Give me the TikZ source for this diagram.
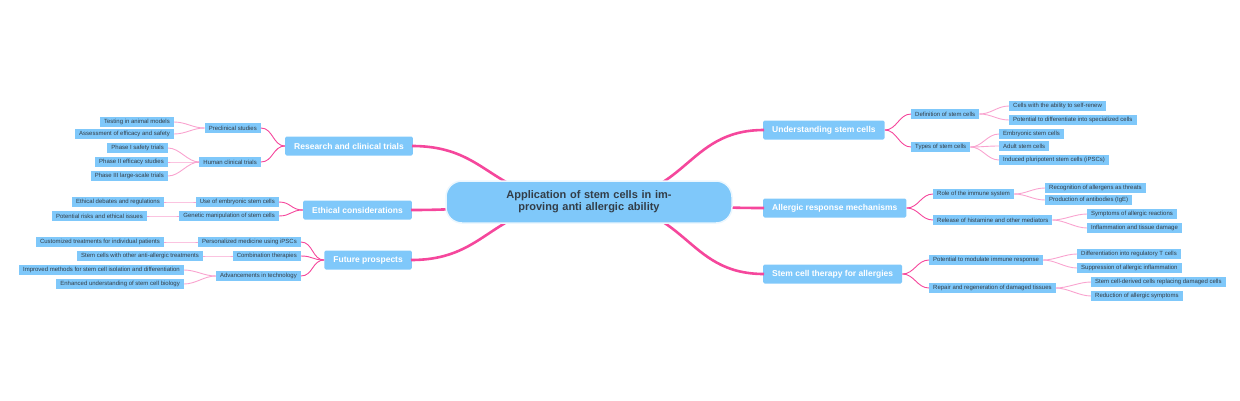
\documentclass[tikz,border=0pt]{standalone}
\usepackage{fontspec}
\setmainfont{Liberation Sans}
\definecolor{boxblue}{HTML}{7FC8FA}
\definecolor{mainpink}{HTML}{F5479C}
\definecolor{lightpink}{HTML}{F9A3CF}
\definecolor{txtgray}{HTML}{333D47}
\tikzset{
  rootbox/.style={fill=boxblue, draw=white!85!boxblue, line width=1.5pt, rounded corners=16pt,
    minimum width=286pt, minimum height=42pt, align=center, text width=250pt,
    font=\fontsize{11}{12}\selectfont\bfseries, text=txtgray},
  branchbox/.style={fill=boxblue, rounded corners=1.5pt, minimum height=19pt, inner xsep=9pt,
    font=\fontsize{8.5}{10}\selectfont\bfseries, text=white},
  subbox/.style={fill=boxblue, minimum height=10pt, inner xsep=4pt, inner ysep=1pt,
    font=\fontsize{6}{7}\selectfont, text=txtgray},
  leafbox/.style={subbox},
  thick link/.style={draw=mainpink, line width=2.6pt},
  sub link/.style={draw=mainpink, line width=0.9pt},
  leaf link/.style={draw=lightpink, line width=0.9pt},
}
\newcommand\rlink[3]{\draw[#1] (#2.east) .. controls +(12,0) and +(-12,0) .. (#3.west);}
\newcommand\llink[3]{\draw[#1] (#2.west) .. controls +(-12,0) and +(12,0) .. (#3.east);}
\begin{document}
\begin{tikzpicture}[x=1pt,y=-1pt]
\useasboundingbox (0,0) rectangle (1240,400);
% branches
\foreach \nm/\tx/\xx/\yy in {u/{Understanding stem cells}/763/130,
    a/{Allergic response mechanisms}/763/208, s/{Stem cell therapy for allergies}/763/274}
  \node[branchbox, anchor=west] (\nm) at (\xx,\yy) {\tx};
\foreach \nm/\tx/\xx/\yy in {r/{Research and clinical trials}/413/146,
    e/{Ethical considerations}/412/210, f/{Future prospects}/412/260}
  \node[branchbox, anchor=east] (\nm) at (\xx,\yy) {\tx};
\coordinate (rc) at (589,202);
% root links
\foreach \nm in {u,a,s}
  \draw[thick link] (rc) .. controls +(100,0) and +(-80,0) .. ([xshift=1pt]\nm.west);
\foreach \nm in {r,e,f}
  \draw[thick link] (rc) .. controls +(-100,0) and +(80,0) .. ([xshift=-1pt]\nm.east);
\node[rootbox] (root) at (rc) {Application of stem cells in improving anti allergic ability};
% sub topics, right
\foreach \nm/\tx/\xx/\yy/\pa in {ud/{Definition of stem cells}/911/114/u, ut/{Types of stem cells}/911/147/u,
    ar/{Role of the immune system}/933/194/a, ah/{Release of histamine and other mediators}/933/220/a,
    sp/{Potential to modulate immune response}/929/260/s, sr/{Repair and regeneration of damaged tissues}/929/288/s}
  {\node[subbox, anchor=west] (\nm) at (\xx,\yy) {\tx};
   \rlink{sub link}{\pa}{\nm}}
% sub topics, left
\foreach \nm/\tx/\xx/\yy/\pa in {rp/{Preclinical studies}/261/128/r, rh/{Human clinical trials}/261/162/r,
    eu/{Use of embryonic stem cells}/279/202/e, eg/{Genetic manipulation of stem cells}/279/216/e,
    fp/{Personalized medicine using iPSCs}/301/242/f, fc/{Combination therapies}/301/256/f,
    fa/{Advancements in technology}/301/276/f}
  {\node[subbox, anchor=east] (\nm) at (\xx,\yy) {\tx};
   \llink{sub link}{\pa}{\nm}}
% leaves, right
\foreach \nm/\tx/\xx/\yy/\pa in {l1/{Cells with the ability to self-renew}/1009/106/ud,
    l2/{Potential to differentiate into specialized cells}/1009/120/ud,
    l3/{Embryonic stem cells}/999/134/ut, l4/{Adult stem cells}/999/146/ut,
    l5/{Induced pluripotent stem cells (iPSCs)}/999/160/ut,
    l6/{Recognition of allergens as threats}/1045/188/ar, l7/{Production of antibodies (IgE)}/1045/200/ar,
    l8/{Symptoms of allergic reactions}/1087/214/ah, l9/{Inflammation and tissue damage}/1087/228/ah,
    l10/{Differentiation into regulatory T cells}/1077/254/sp, l11/{Suppression of allergic inflammation}/1077/268/sp,
    l12/{Stem cell-derived cells replacing damaged cells}/1091/282/sr, l13/{Reduction of allergic symptoms}/1091/296/sr}
  {\node[leafbox, anchor=west] (\nm) at (\xx,\yy) {\tx};
   \rlink{leaf link}{\pa}{\nm}}
% leaves, left
\foreach \nm/\tx/\xx/\yy/\pa in {m1/{Testing in animal models}/174/122/rp, m2/{Assessment of efficacy and safety}/174/134/rp,
    m3/{Phase I safety trials}/168/148/rh, m4/{Phase II efficacy studies}/168/162/rh,
    m5/{Phase III large-scale trials}/168/176/rh,
    m6/{Ethical debates and regulations}/164/202/eu, m7/{Potential risks and ethical issues}/147/216/eg,
    m8/{Customized treatments for individual patients}/164/242/fp,
    m9/{Stem cells with other anti-allergic treatments}/203/256/fc,
    m10/{Improved methods for stem cell isolation and differentiation}/184/270/fa,
    m11/{Enhanced understanding of stem cell biology}/184/284/fa}
  {\node[leafbox, anchor=east] (\nm) at (\xx,\yy) {\tx};
   \llink{leaf link}{\pa}{\nm}}
\end{tikzpicture}
\end{document}
